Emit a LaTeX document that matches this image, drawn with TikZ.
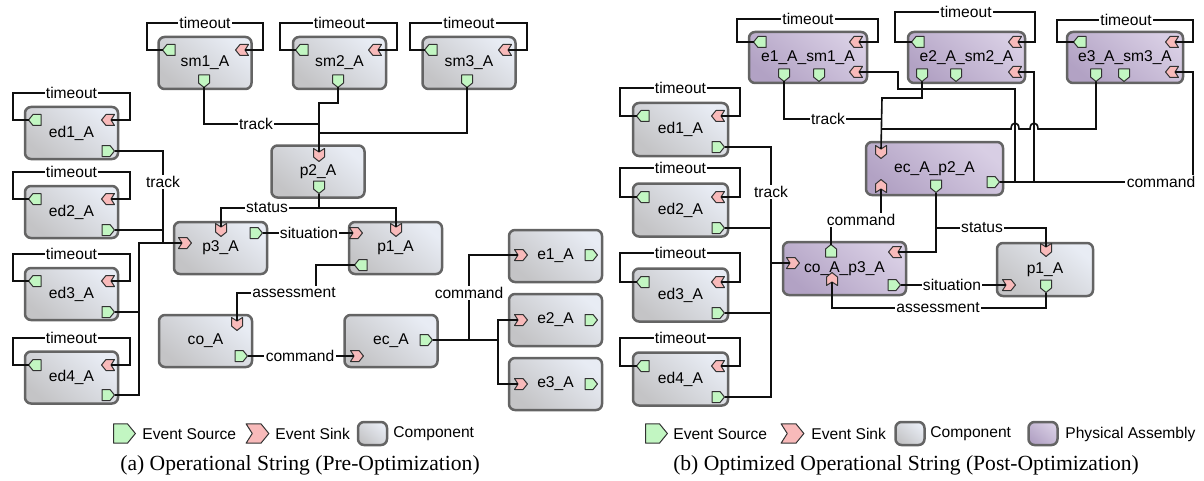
\documentclass[tikz,border=0pt]{standalone}
\usepackage{fontspec}
\setmainfont{Liberation Serif}
\setsansfont{Liberation Sans}

\definecolor{compLo}{RGB}{196,196,198}
\definecolor{compHi}{RGB}{232,236,244}
\definecolor{asmLo}{RGB}{178,162,196}
\definecolor{asmHi}{RGB}{216,206,228}
\definecolor{boxLine}{RGB}{100,100,100}
\definecolor{srcFill}{RGB}{194,246,194}
\definecolor{snkFill}{RGB}{248,186,186}
\definecolor{portLine}{RGB}{50,50,50}
\definecolor{wireCol}{RGB}{15,15,15}

\tikzset{
  srcport/.style={fill=srcFill, draw=portLine, line width=0.5pt, line join=round},
  snkport/.style={fill=snkFill, draw=portLine, line width=0.5pt, line join=round},
}

% event source: flat back, pointed front; the wire leaves from the tip
\newcommand{\srcport}[4][]{%
  \begin{scope}[shift={(#3)},rotate=#4,#1]
    \filldraw[srcport] (-6,-5.5) -- (2,-5.5) -- (6.5,0) -- (2,5.5) -- (-6,5.5) -- cycle;
    \coordinate (#2) at (6.5,0);
  \end{scope}}
% event sink: chevron, the wire enters the notch
\newcommand{\snkport}[4][]{%
  \begin{scope}[shift={(#3)},rotate=#4,#1]
    \filldraw[snkport] (-6.5,-5.5) -- (2,-5.5) -- (6.5,0) -- (2,5.5) -- (-6.5,5.5) -- (-3,0) -- cycle;
    \coordinate (#2) at (-3,0);
  \end{scope}}

\begin{document}
\begin{tikzpicture}[x=0.5pt,y=-0.5pt,
  comp/.style={draw=boxLine, line width=1.25pt, rounded corners=3pt,
    bottom color=compLo, top color=compHi, shading angle=-40,
    minimum width=46.5pt, minimum height=26pt, inner sep=0pt,
    font=\sffamily\fontsize{7.8}{9}\selectfont},
  asm/.style={comp, bottom color=asmLo, top color=asmHi, shading angle=-40},
  wire/.style={draw=wireCol, line width=0.8pt},
  lbl/.style={fill=white, inner sep=0.7pt, font=\sffamily\fontsize{7.8}{9}\selectfont},
  key/.style={anchor=west, inner sep=0pt, font=\sffamily\fontsize{7.8}{9}\selectfont},
  captext/.style={font=\fontsize{10.8}{12}\selectfont}]
\useasboundingbox (0,0) rectangle (1204,481);

% ---------------- (a)
\node[comp] (sm1) at (205,63) {sm1\_A};
\node[comp] (sm2) at (339.5,63) {sm2\_A};
\node[comp] (sm3) at (469,63) {sm3\_A};
\node[comp] (ed1) at (71.5,133) {ed1\_A};
\node[comp] (ed2) at (71.5,212) {ed2\_A};
\node[comp] (ed3) at (71.5,294) {ed3\_A};
\node[comp] (ed4) at (71.5,377.5) {ed4\_A};
\node[comp] (p2) at (318,171.5) {p2\_A};
\node[comp] (p3) at (220.5,248) {p3\_A};
\node[comp] (p1) at (395.5,248) {p1\_A};
\node[comp] (co) at (205.5,341) {co\_A};
\node[comp] (ec) at (391,341) {ec\_A};
\node[comp] (e1) at (555.5,256) {e1\_A};
\node[comp] (e2) at (555.5,320) {e2\_A};
\node[comp] (e3) at (555.5,384) {e3\_A};

\srcport{sm1L}{169,50}{180}
\snkport{sm1R}{242,50}{180}
\srcport{sm1B}{204,81}{-90}
\srcport{sm2L}{302,50}{180}
\snkport{sm2R}{375,50}{180}
\srcport{sm2B}{338,81}{-90}
\srcport{sm3L}{431,50}{180}
\snkport{sm3R}{505,50}{180}
\srcport{sm3B}{467,81}{-90}
\srcport{ed1L}{35,120}{180}
\snkport{ed1R}{108,120}{180}
\srcport{ed1B}{108,151}{0}
\srcport{ed2L}{35,199}{180}
\snkport{ed2R}{108,199}{180}
\srcport{ed2B}{108,230}{0}
\srcport{ed3L}{35,281}{180}
\snkport{ed3R}{108,281}{180}
\srcport{ed3B}{108,312}{0}
\srcport{ed4L}{35,365}{180}
\snkport{ed4R}{108,365}{180}
\srcport{ed4B}{108,395}{0}
\snkport{p2T}{319,155}{-90}
\srcport{p2B}{319,187}{-90}
\snkport{p3L}{185,243}{0}
\snkport{p3T}{221,230}{-90}
\srcport{p3R}{256,233}{0}
\snkport{p1L}{356,233}{0}
\snkport{p1T}{396,230}{-90}
\srcport{p1B}{361,265}{180}
\snkport{coT}{237,324}{-90}
\srcport{coR}{241,356}{0}
\snkport{ecL}{357,356}{0}
\srcport{ecR}{426,340}{0}
\snkport{e1L}{521,255}{0}
\srcport{e1R}{591,255}{0}
\snkport{e2L}{521,320}{0}
\srcport{e2R}{591,320}{0}
\snkport{e3L}{521,384}{0}
\srcport{e3R}{591,384}{0}

\draw[wire] (sm1L) -| (147,23) -| (263,50) -- (sm1R);
\draw[wire] (sm2L) -| (280,23) -| (397,50) -- (sm2R);
\draw[wire] (sm3L) -| (410,23) -| (527,50) -- (sm3R);
\draw[wire] (ed1L) -| (13,93) -| (130,120) -- (ed1R);
\draw[wire] (ed2L) -| (13,172) -| (130,199) -- (ed2R);
\draw[wire] (ed3L) -| (13,254) -| (130,281) -- (ed3R);
\draw[wire] (ed4L) -| (13,338) -| (130,365) -- (ed4R);
\node[lbl] at (205,23) {timeout};
\node[lbl] at (339.5,23) {timeout};
\node[lbl] at (469,23) {timeout};
\node[lbl] at (71.5,93) {timeout};
\node[lbl] at (71.5,172) {timeout};
\node[lbl] at (71.5,254) {timeout};
\node[lbl] at (71.5,338) {timeout};

\draw[wire] (sm1B) |- (319,124);
\draw[wire] (sm2B) |- (319,103) -- (p2T);
\draw[wire] (sm3B) |- (319,133);
\node[lbl] at (256,124) {track};

\draw[wire] (ed1B) -| (163,243);
\draw[wire] (ed2B) -- (163,230);
\draw[wire] (ed3B) -| (139,243) -- (p3L);
\draw[wire] (ed4B) -| (139,312);
\node[lbl] at (163,182) {track};

\draw[wire] (p2B) -- (319,208);
\draw[wire] (p3T) |- (396,208) -- (p1T);
\node[lbl] at (267,208) {status};
\draw[wire] (p3R) -- (p1L);
\node[lbl] at (309,233) {situation};
\draw[wire] (p1B) -| (316,293) -| (coT);
\node[lbl] at (294,293) {assessment};
\draw[wire] (coR) -- (ecL);
\node[lbl] at (300,356) {command};
\draw[wire] (ecR) -- (498,340);
\draw[wire] (469,340) |- (e1L);
\draw[wire] (e2L) -| (498,384) -- (e3L);
\node[lbl] at (469,293) {command};

\srcport[scale=1.75]{keySrcA}{124,433.5}{0}
\node[key] at (142,434) {Event Source};
\snkport[scale=1.75]{keySnkA}{257.5,433.5}{0}
\node[key] at (275,434) {Event Sink};
\node[comp, minimum width=14.5pt, minimum height=11.5pt] (keyCompA) at (372.5,433.5) {};
\node[key] at (393,434) {Component};
\node[captext] (capA) at (300,465) {(a) Operational String (Pre-Optimization)};

% ---------------- (b)
\node[asm, minimum width=59pt, minimum height=25.5pt] (a1) at (808,57.5) {e1\_A\_sm1\_A};
\node[asm, minimum width=58.5pt, minimum height=25.5pt] (a2) at (966.5,57.5) {e2\_A\_sm2\_A};
\node[asm, minimum width=58pt, minimum height=25.5pt] (a3) at (1125,57.5) {e3\_A\_sm3\_A};
\node[asm, minimum width=68.5pt, minimum height=26.5pt] (a4) at (934.5,168.5) {ec\_A\_p2\_A};
\node[asm, minimum width=61.5pt, minimum height=26.5pt] (a5) at (844.5,268.5) {co\_A\_p3\_A};
\node[comp, minimum width=48pt, minimum height=26.5pt] (pb1) at (1045,269.5) {p1\_A};
\node[comp, minimum width=47.5pt, minimum height=26.5pt] (edb1) at (680.5,129.5) {ed1\_A};
\node[comp, minimum width=47.5pt, minimum height=26.5pt] (edb2) at (680.5,210) {ed2\_A};
\node[comp, minimum width=47.5pt, minimum height=26.5pt] (edb3) at (680.5,295) {ed3\_A};
\node[comp, minimum width=47.5pt, minimum height=26.5pt] (edb4) at (680.5,379) {ed4\_A};

\srcport{a1L}{760,42}{180}
\snkport{a1R}{856,42}{180}
\snkport{a1S}{856,72}{180}
\srcport{a1B}{784,75}{-90}
\srcport{a1C}{819,75}{-90}
\srcport{a2L}{918,42}{180}
\snkport{a2R}{1015,42}{180}
\snkport{a2S}{1015,72}{180}
\srcport{a2B}{922,75}{-90}
\srcport{a2C}{956,75}{-90}
\srcport{a3L}{1080,42}{180}
\snkport{a3R}{1172,42}{180}
\snkport{a3S}{1172,72}{180}
\srcport{a3B}{1096,75}{-90}
\srcport{a3C}{1124,75}{-90}
\snkport{a4T}{881,152}{-90}
\snkport{a4U}{881,186}{90}
\srcport{a4B}{936,186}{-90}
\srcport{a4R}{993,182}{0}
\snkport{a5L}{793,263}{0}
\srcport{a5T}{831,251}{90}
\snkport{a5R}{895,252}{180}
\srcport{a5S}{894,285}{0}
\snkport{a5U}{832,279}{90}
\snkport{pb1T}{1046,250}{-90}
\snkport{pb1L}{1009,285}{0}
\srcport{pb1B}{1046,286}{-90}
\srcport{edb1L}{643,116}{180}
\snkport{edb1R}{718,116}{180}
\srcport{edb1B}{718,147}{0}
\srcport{edb2L}{643,197}{180}
\snkport{edb2R}{718,197}{180}
\srcport{edb2B}{718,228}{0}
\srcport{edb3L}{643,282}{180}
\snkport{edb3R}{718,282}{180}
\srcport{edb3B}{718,313}{0}
\srcport{edb4L}{643,366}{180}
\snkport{edb4R}{718,366}{180}
\srcport{edb4B}{718,397}{0}

\draw[wire] (a1L) -| (737,19) -| (878,42) -- (a1R);
\draw[wire] (a2L) -| (895,12) -| (1035,42) -- (a2R);
\draw[wire] (a3L) -| (1057,20) -| (1193,42) -- (a3R);
\draw[wire] (edb1L) -| (620,88) -| (740,116) -- (edb1R);
\draw[wire] (edb2L) -| (620,168) -| (740,197) -- (edb2R);
\draw[wire] (edb3L) -| (620,253) -| (740,282) -- (edb3R);
\draw[wire] (edb4L) -| (620,338) -| (740,366) -- (edb4R);
\node[lbl] at (808,19) {timeout};
\node[lbl] at (966,12) {timeout};
\node[lbl] at (1126,20) {timeout};
\node[lbl] at (680.5,88) {timeout};
\node[lbl] at (680.5,168) {timeout};
\node[lbl] at (680.5,253) {timeout};
\node[lbl] at (680.5,338) {timeout};

\draw[wire] (edb1B) -| (771,397) -- (edb4B);
\draw[wire] (edb2B) -- (771,228);
\draw[wire] (edb3B) -- (771,313);
\draw[wire] (771,263) -- (a5L);
\node[lbl] at (771,192) {track};

\draw[wire] (a1B) |- (882,119);
\draw[wire] (a2B) |- (882,98) -- (a4T);
\draw[wire] (a3B) |- (1038,129) .. controls (1038,121) and (1030,121) .. (1030,129)
  -- (1019,129) .. controls (1019,121) and (1011,121) .. (1011,129) -- (882,129);
\node[lbl] at (828,119) {track};

\draw[wire] (a4R) -| (1193,72) -- (a3S);
\draw[wire] (1015,182) |- (898,89) |- (a1S);
\draw[wire] (1034,182) |- (a2S);
\node[lbl] at (1161,182) {command};
\draw[wire] (a5T) |- (881,220) -- (a4U);
\node[lbl] at (861,220) {command};

\draw[wire] (a4B) |- (1046,228) -- (pb1T);
\draw[wire] (936,228) |- (a5R);
\node[lbl] at (982,228) {status};
\draw[wire] (a5S) -- (pb1L);
\node[lbl] at (952,285) {situation};
\draw[wire] (pb1B) |- (832,308) -- (a5U);
\node[lbl] at (938,308) {assessment};

\srcport[scale=1.75]{keySrcB}{656,433.5}{0}
\node[key] at (673,434) {Event Source};
\snkport[scale=1.75]{keySnkB}{792.5,433.5}{0}
\node[key] at (811,434) {Event Sink};
\node[comp, minimum width=14.5pt, minimum height=11.5pt] (keyCompB) at (910,433.5) {};
\node[key] at (930,434) {Component};
\node[asm, minimum width=14.5pt, minimum height=11.5pt] (keyAsm) at (1043,433.5) {};
\node[key] at (1065,434) {Physical Assembly};
\node[captext] (capB) at (906,465) {(b) Optimized Operational String (Post-Optimization)};
\end{tikzpicture}
\end{document}
